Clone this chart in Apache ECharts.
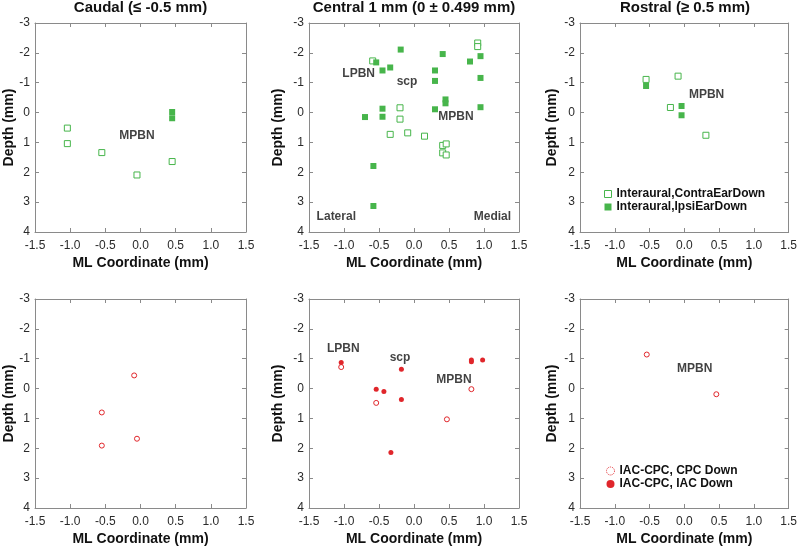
<!DOCTYPE html>
<html><head><meta charset="utf-8">
<script src="https://cdn.jsdelivr.net/npm/echarts@6/dist/echarts.min.js"></script>
<style>html,body{margin:0;padding:0;background:#fff}#c{width:800px;height:547px}</style>
</head><body><div id="c"></div>
<script>
// ---- data ----
const xTicks = [-1.5, -1.0, -0.5, 0.0, 0.5, 1.0, 1.5];
const yTicks = [-3, -2, -1, 0, 1, 2, 3, 4];
const panelTitles = ['Caudal (≤ -0.5 mm)', 'Central 1 mm (0 ± 0.499 mm)', 'Rostral (≥ 0.5 mm)'];
const seriesNames = ['Interaural,ContraEarDown', 'Interaural,IpsiEarDown', 'IAC-CPC, CPC Down', 'IAC-CPC, IAC Down'];

const caudalContra = [[-1.04,0.52],[-1.04,1.04],[-0.55,1.34],[-0.05,2.09],[0.45,1.64]];
const caudalIpsi = [[0.45,-0.02],[0.45,0.19]];
const centralContra = [[0.91,-2.33],[0.91,-2.21],[-0.59,-1.73],[-0.20,-0.16],[-0.20,0.22],[-0.34,0.73],[-0.09,0.68],[0.15,0.79],[0.41,1.10],[0.46,1.05],[0.41,1.35],[0.46,1.42]];
const centralIpsi = [[-0.54,-1.68],[-0.19,-2.11],[-0.45,-1.41],[-0.34,-1.51],[0.41,-1.96],[0.30,-1.41],[0.30,-1.06],[0.80,-1.71],[0.95,-1.89],[0.95,-1.16],[0.45,-0.44],[0.45,-0.31],[0.30,-0.11],[0.95,-0.18],[-0.45,-0.13],[-0.45,0.14],[-0.70,0.15],[-0.58,1.79],[-0.58,3.13]];
const rostralContra = [[-0.55,-1.11],[-0.09,-1.22],[-0.20,-0.17],[0.31,0.76]];
const rostralIpsi = [[-0.55,-0.89],[-0.04,-0.22],[-0.04,0.09]];

const caudalCPC = [[-0.09,-0.44],[-0.55,0.80],[-0.55,1.91],[-0.05,1.68]];
const caudalIAC = [];
const centralCPC = [[-1.04,-0.72],[-0.54,0.48],[0.82,0.02],[0.47,1.03]];
const centralIAC = [[-1.04,-0.87],[-0.18,-0.65],[-0.54,0.02],[-0.43,0.10],[-0.18,0.37],[-0.33,2.14],[0.82,-0.96],[0.82,-0.90],[0.98,-0.96]];
const rostralCPC = [[-0.54,-1.14],[0.46,0.19]];
const rostralIAC = [];

const notes = [
  [['MPBN',-0.05,0.76]],
  [['LPBN',-0.79,-1.31],['scp',-0.10,-1.04],['MPBN',0.60,0.14],['Lateral',-1.11,3.48],['Medial',1.12,3.48]],
  [['MPBN',0.32,-0.59]],
  [],
  [['LPBN',-1.01,-1.33],['scp',-0.20,-1.02],['MPBN',0.57,-0.31]],
  [['MPBN',0.15,-0.65]]
];

// ---- layout ----
const GREEN = '#47b54b', RED = '#e0262b', AX = '#8a8a8a', TXT = '#2a2a2a';
const FONT = 'Liberation Sans, Arial, Helvetica, sans-serif';
const colLeft = [35, 309, 580], colW = [211, 210, 210];
const rowTop = [23, 299], rowH = [209, 210];
const yNameGap = [19, 24, 21];

const grids = [], xAxes = [], yAxes = [], series = [];
for (let p = 0; p < 6; p++) {
  const r = Math.floor(p / 3), c = p % 3;
  grids.push({left: colLeft[c], top: rowTop[r], width: colW[c], height: rowH[r]});
  const axLine = {show: true, onZero: false, lineStyle: {color: AX, width: 1}};
  const tick = {show: true, inside: true, length: 4, lineStyle: {color: AX}};
  xAxes.push({
    gridIndex: p, type: 'value', min: xTicks[0], max: xTicks[xTicks.length-1], interval: 0.5,
    position: 'bottom', axisLine: axLine, axisTick: tick, splitLine: {show: false},
    axisLabel: {color: TXT, fontSize: 12, margin: 8, formatter: v => v.toFixed(1)},
    name: 'ML Coordinate (mm)', nameLocation: 'middle', nameGap: 24,
    nameTextStyle: {fontSize: 14, fontWeight: 'bold', color: '#111'}
  });
  xAxes.push({
    gridIndex: p, type: 'value', min: xTicks[0], max: xTicks[xTicks.length-1], interval: 0.5,
    position: 'top', axisLine: axLine, axisTick: tick, axisLabel: {show: false}, splitLine: {show: false}
  });
  yAxes.push({
    gridIndex: p, type: 'value', inverse: true, min: yTicks[0], max: yTicks[yTicks.length-1], interval: 1,
    position: 'left', axisLine: axLine, axisTick: tick, splitLine: {show: false},
    axisLabel: {color: TXT, fontSize: 12, margin: 5},
    name: 'Depth (mm)', nameLocation: 'middle', nameGap: yNameGap[c], nameMoveOverlap: false,
    nameTextStyle: {fontSize: 14, fontWeight: 'bold', color: '#111'}
  });
  yAxes.push({
    gridIndex: p, type: 'value', inverse: true, min: yTicks[0], max: yTicks[yTicks.length-1], interval: 1,
    position: 'right', axisLine: axLine, axisTick: tick, axisLabel: {show: false}, splitLine: {show: false}
  });
}

const panelData = [
  [caudalContra, caudalIpsi], [centralContra, centralIpsi], [rostralContra, rostralIpsi],
  [caudalCPC, caudalIAC], [centralCPC, centralIAC], [rostralCPC, rostralIAC]
];
panelData.forEach((pd, p) => {
  const top = p < 3;
  const xi = p * 2, yi = p * 2;
  series.push({
    type: 'scatter', name: top ? seriesNames[0] : seriesNames[2], xAxisIndex: xi, yAxisIndex: yi,
    data: pd[0], symbol: top ? 'rect' : 'circle', symbolSize: top ? 6 : 5,
    itemStyle: {color: '#fff', borderColor: top ? GREEN : RED, borderWidth: 1, opacity: 1},
    emphasis: {disabled: true}, z: 3
  });
  series.push({
    type: 'scatter', name: top ? seriesNames[1] : seriesNames[3], xAxisIndex: xi, yAxisIndex: yi,
    data: pd[1], symbol: top ? 'rect' : 'circle', symbolSize: top ? 6 : 5,
    itemStyle: {color: top ? GREEN : RED, opacity: 1},
    emphasis: {disabled: true}, z: 4
  });
  series.push({
    type: 'scatter', name: 'notes' + p, xAxisIndex: xi, yAxisIndex: yi,
    data: notes[p].map(n => ({name: n[0], value: [n[1], n[2]]})),
    symbolSize: 1, itemStyle: {color: 'rgba(0,0,0,0)'}, silent: true,
    label: {show: true, position: 'inside', formatter: '{b}', fontSize: 12, fontWeight: 'bold', color: '#111'},
    z: 5
  });
});

const titles = panelTitles.map((t, i) => ({
  text: t, left: colLeft[i] + colW[i] / 2, top: 0, padding: 0, textAlign: 'center',
  textStyle: {fontSize: 15, fontWeight: 'bold', color: '#111'}
}));

const legendText = {fontSize: 12, fontWeight: 'bold', color: '#111'};
const option = {
  animation: false,
  textStyle: {fontFamily: FONT},
  title: titles,
  grid: grids, xAxis: xAxes, yAxis: yAxes, series: series,
  legend: [
    {orient: 'vertical', left: 599, top: 183, itemWidth: 7, itemHeight: 7, itemGap: 1,
     selectedMode: false, textStyle: legendText,
     data: [{name: seriesNames[0], icon: 'rect', itemStyle: {color: '#fff', borderColor: GREEN, borderWidth: 1}},
            {name: seriesNames[1], icon: 'rect', itemStyle: {color: GREEN}}]},
    {orient: 'vertical', left: 601, top: 460, itemWidth: 8, itemHeight: 8, itemGap: 1,
     selectedMode: false, textStyle: legendText,
     data: [{name: seriesNames[2], icon: 'circle', itemStyle: {color: '#fff', borderColor: RED, borderWidth: 1, borderType: 'dotted'}},
            {name: seriesNames[3], icon: 'circle', itemStyle: {color: RED}}]}
  ]
};
const chart = echarts.init(document.getElementById('c'), null, {renderer: 'canvas'});
chart.setOption(option);
</script></body></html>
